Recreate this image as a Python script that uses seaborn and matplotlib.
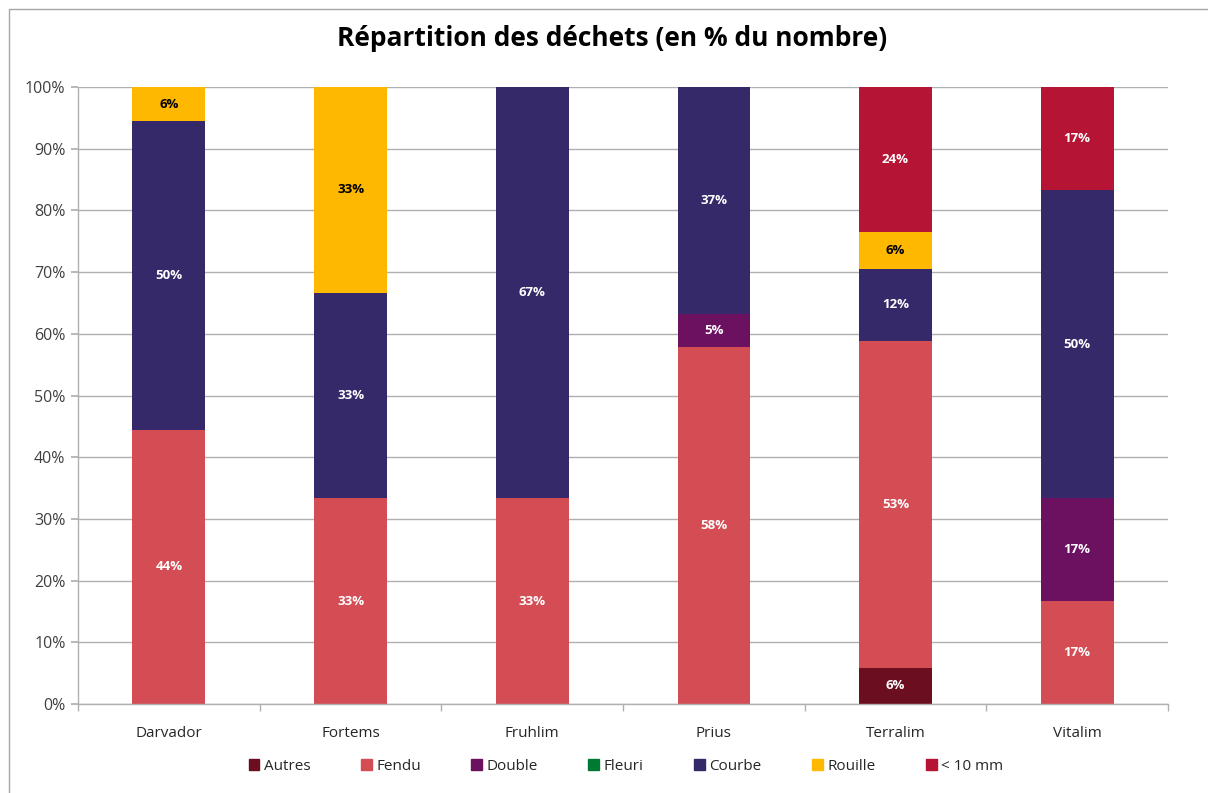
import matplotlib
matplotlib.use("Agg")
import matplotlib.pyplot as plt
import matplotlib.patches as mpatches
from matplotlib.ticker import PercentFormatter, FixedLocator
import seaborn as sns
import numpy as np

categories = ["Darvador", "Fortems", "Fruhlim", "Prius", "Terralim", "Vitalim"]
series = ["Autres", "Fendu", "Double", "Fleuri", "Courbe", "Rouille", "< 10 mm"]
autres = [0, 0, 0, 0, 5.88, 0]
fendu = [44.44, 33.33, 33.33, 57.89, 52.94, 16.67]
double = [0, 0, 0, 5.26, 0, 16.67]
fleuri = [0, 0, 0, 0, 0, 0]
courbe = [50.0, 33.33, 66.67, 36.84, 11.76, 50.0]
rouille = [5.56, 33.33, 0, 0, 5.88, 0]
moins10 = [0, 0, 0, 0, 23.53, 16.67]
values = [autres, fendu, double, fleuri, courbe, rouille, moins10]
colors = ["#6B0E1F", "#D44D55", "#6C1160", "#007A33", "#35296A", "#FFB800", "#B51435"]
label_colors = ["white", "white", "white", "white", "white", "black", "white"]

sns.set_theme(style="white")
plt.rcParams["font.family"] = ["Open Sans", "DejaVu Sans"]

fig = plt.figure(figsize=(12.08, 7.93), dpi=100)
ax = fig.add_axes([78 / 1208, 1 - 704 / 793, (1168 - 78) / 1208, (704 - 87) / 793])

bottom = np.zeros(len(categories))
for name, vals, col, lc in zip(series, values, colors, label_colors):
    v = np.array(vals, dtype=float)
    sns.barplot(x=categories, y=v, bottom=bottom, color=col, width=0.4,
                ax=ax, saturation=1, label=name, linewidth=0)
    for i, (b, h) in enumerate(zip(bottom, v)):
        if h > 0:
            ax.text(i, b + h / 2, f"{h:.0f}%", ha="center", va="center",
                    color=lc, fontsize=9.5, fontweight="bold")
    bottom = bottom + v

ax.set_ylim(0, 100)
ax.set_xlim(-0.5, len(categories) - 0.5)
ax.yaxis.set_major_locator(FixedLocator(np.arange(0, 101, 10)))
ax.yaxis.set_major_formatter(PercentFormatter(decimals=0))
ax.grid(axis="y", color="#B0B0B0", linewidth=1)
ax.set_axisbelow(True)
for s in ["top", "right"]:
    ax.spines[s].set_visible(False)
ax.spines["left"].set_color("#B0B0B0")
ax.spines["bottom"].set_color("#B0B0B0")
ax.spines["left"].set_linewidth(1)
ax.spines["bottom"].set_linewidth(1)
ax.tick_params(axis="y", left=True, length=5, color="#B0B0B0", labelsize=11.5, labelcolor="#404040", pad=4)
ax.tick_params(axis="x", bottom=False, labelsize=11, labelcolor="#262626", pad=10)
ax.set_xticks(np.arange(-0.5, len(categories), 1), minor=True)
ax.tick_params(axis="x", which="minor", bottom=True, length=5, color="#B0B0B0", direction="out")
ax.set_xlabel("")
ax.set_ylabel("")
if ax.get_legend():
    ax.get_legend().remove()

fig.text(0.507, 1 - 38 / 793, "Répartition des déchets (en % du nombre)",
         ha="center", va="center", fontsize=19, fontweight="bold", color="black")

handles = [mpatches.Patch(color=c, label=n) for n, c in zip(series, colors)]
fig.legend(handles=handles, loc="center", bbox_to_anchor=(626 / 1208, 1 - 766 / 793),
           ncol=7, frameon=False, fontsize=11, handlelength=0.7, handleheight=0.7,
           handletextpad=0.3, columnspacing=3.3)

border = mpatches.Rectangle((9 / 1208, -0.05), 1.1, 1 - 9 / 793 + 0.05,
                            transform=fig.transFigure, fill=False,
                            edgecolor="#A6A6A6", linewidth=1)
fig.patches.append(border)

fig.savefig("out.png", dpi=100)
